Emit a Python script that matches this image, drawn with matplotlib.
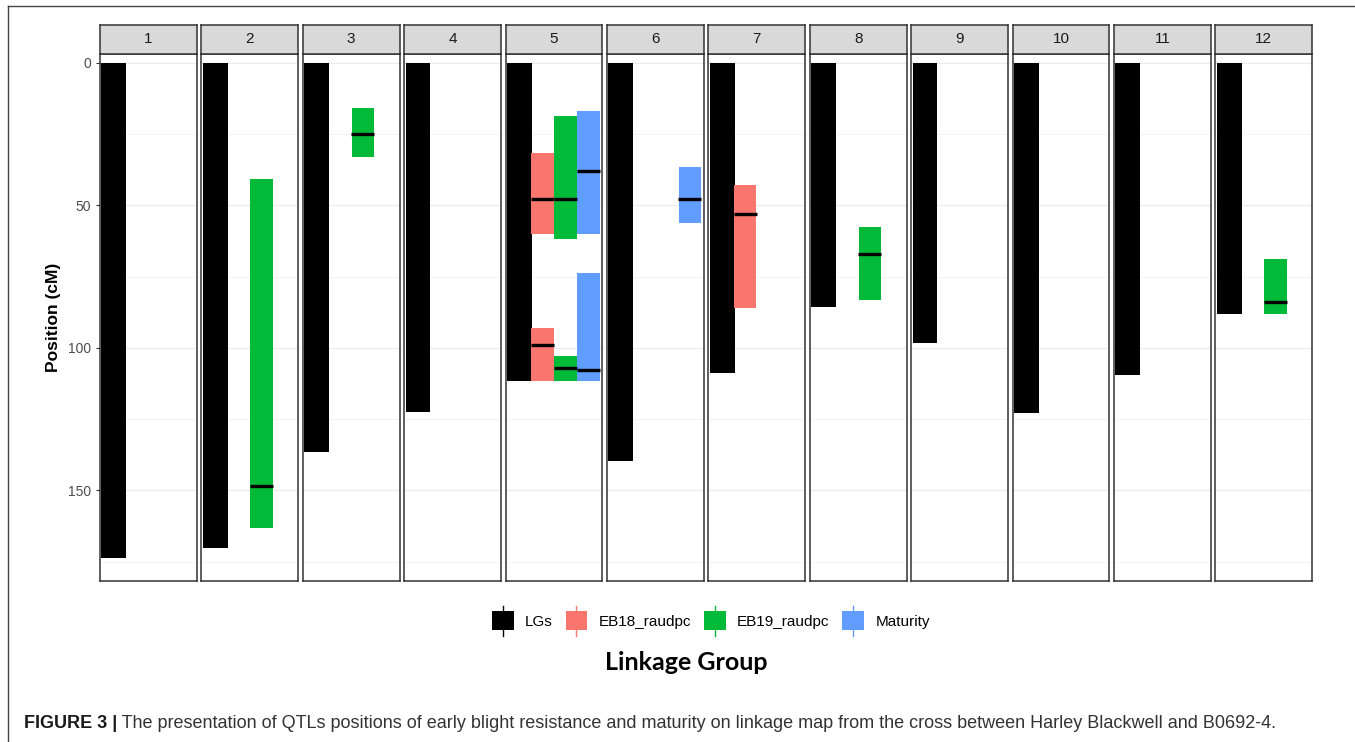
import matplotlib
matplotlib.use("Agg")
import matplotlib.pyplot as plt
from matplotlib.lines import Line2D
from matplotlib.patches import Patch, Rectangle
from matplotlib.legend_handler import HandlerBase
from matplotlib.text import Annotation

# linkage group lengths (cM)
lg_names = ["1", "2", "3", "4", "5", "6", "7", "8", "9", "10", "11", "12"]
lg_length = [173.9, 170.4, 136.6, 122.6, 111.6, 139.7, 109.0, 85.5, 98.3, 122.8, 109.4, 88.1]

# QTL intervals: linkage group, trait, start, end, peak (cM)
qtl_lg = [2, 3, 5, 5, 5, 5, 5, 5, 6, 7, 8, 12]
qtl_trait = ["EB19_raudpc", "EB19_raudpc", "EB18_raudpc", "EB19_raudpc", "Maturity",
             "EB18_raudpc", "EB19_raudpc", "Maturity", "Maturity", "EB18_raudpc",
             "EB19_raudpc", "EB19_raudpc"]
qtl_start = [40.8, 16.0, 31.7, 18.6, 16.8, 92.9, 102.8, 73.8, 36.7, 42.9, 57.7, 68.9]
qtl_end = [163.3, 33.2, 60.0, 61.9, 60.0, 111.6, 111.6, 111.6, 56.1, 86.1, 83.2, 88.1]
qtl_peak = [148.5, 24.9, 47.8, 47.8, 37.8, 98.9, 106.9, 107.7, 47.8, 53.0, 66.9, 83.9]

traits = ["LGs", "EB18_raudpc", "EB19_raudpc", "Maturity"]
colors = {"LGs": "black", "EB18_raudpc": "#F8766D", "EB19_raudpc": "#00BA38", "Maturity": "#619CFF"}
xpos = {t: i + 1 for i, t in enumerate(traits)}

W, H = 1355, 742
fig = plt.figure(figsize=(W / 100, H / 100), dpi=100)

edge = "#333333"
pw, gap = 96.8, 4.6
x0, top, bottom, strip_top = 100, 54, 580.7, 24.5

for i, name in enumerate(lg_names):
    left = x0 + i * (pw + gap)
    ax = fig.add_axes([left / W, 1 - bottom / H, pw / W, (bottom - top) / H])
    ax.set_xlim(0.4, 4.6)
    ax.set_ylim(181.7, -3.1)
    ax.set_yticks([0, 50, 100, 150])
    ax.set_yticks([25, 75, 125, 175], minor=True)
    ax.grid(True, which="major", axis="y", color="#EBEBEB", lw=0.9)
    ax.grid(True, which="minor", axis="y", color="#F2F2F2", lw=0.6)
    ax.set_axisbelow(True)
    ax.set_xticks([])
    for s in ax.spines.values():
        s.set_color(edge)
        s.set_linewidth(1.1)
    ax.tick_params(axis="y", which="minor", length=0)
    if i == 0:
        ax.tick_params(axis="y", which="major", length=3, color=edge,
                       labelsize=10, labelcolor="#4D4D4D")
        for lab in ax.get_yticklabels():
            lab.set_family("Liberation Sans")
        ax.set_ylabel("Position (cM)", fontsize=12.5, fontweight="bold",
                      family="Liberation Sans", labelpad=5)
    else:
        ax.tick_params(axis="y", which="major", length=0, labelleft=False)

    # linkage group bar
    ax.bar(xpos["LGs"], lg_length[i], bottom=0, width=1.08, color=colors["LGs"], zorder=2)

    # QTL crossbars
    for lg, tr, s0, s1, pk in zip(qtl_lg, qtl_trait, qtl_start, qtl_end, qtl_peak):
        if lg != i + 1:
            continue
        xc = xpos[tr]
        ax.bar(xc, s1 - s0, bottom=s0, width=0.97, color=colors[tr], zorder=2)
        ax.plot([xc - 0.5, xc + 0.5], [pk, pk], color="black", lw=2.4,
                solid_capstyle="butt", zorder=3)

    # facet strip
    sax = fig.add_axes([left / W, 1 - top / H, pw / W, (top - strip_top) / H])
    sax.set_facecolor("#D9D9D9")
    sax.set_xticks([])
    sax.set_yticks([])
    for s in sax.spines.values():
        s.set_color(edge)
        s.set_linewidth(1.1)
    sax.text(0.5, 0.5, name, ha="center", va="center", fontsize=11,
             color="#1A1A1A", family="Liberation Sans", transform=sax.transAxes)


class CrossbarKey(HandlerBase):
    def create_artists(self, legend, orig_handle, xdescent, ydescent, width,
                       height, fontsize, trans):
        c = orig_handle.get_facecolor()
        r = Rectangle((-xdescent, -ydescent - 3), width, height + 6,
                      facecolor=c, edgecolor="none", transform=trans)
        cx = -xdescent + width / 2
        ln = Line2D([cx, cx], [-ydescent - 7, height - ydescent + 7],
                    color=c, lw=1.0, transform=trans)
        return [r, ln]


handles = [Patch(facecolor=colors[t]) for t in traits]
leg = fig.legend(handles, traits, loc="center", bbox_to_anchor=(711 / W, 1 - 622 / H),
                 ncol=4, frameon=False, handler_map={Patch: CrossbarKey()},
                 handlelength=1.4, handletextpad=0.75, columnspacing=0.85,
                 prop={"family": "Liberation Sans", "size": 11})

fig.text(686 / W, 1 - 662 / H, "Linkage Group", ha="center", va="center",
         fontsize=18, fontweight="bold", family="Lato")

# caption below the figure
cap_font = ["Liberation Sans Narrow", "Liberation Sans"]
cap = fig.text(24 / W, 1 - 723 / H, "FIGURE 3 |", ha="left", va="center",
               fontsize=13, fontweight="bold", color="#1A1A1A", family=cap_font)
fig.add_artist(Annotation(
    " The presentation of QTLs positions of early blight resistance and maturity "
    "on linkage map from the cross between Harley Blackwell and B0692-4.",
    xy=(1, 0.5), xycoords=cap, ha="left", va="center", fontsize=13,
    color="#333333", family=cap_font))

# frame lines around the figure area
fig.add_artist(Line2D([8 / W, 8 / W], [0, 1 - 6 / H], color="#444444", lw=1.0))
fig.add_artist(Line2D([8 / W, 1], [1 - 6 / H, 1 - 6 / H], color="#444444", lw=1.0))

fig.savefig("out.png", dpi=100)
